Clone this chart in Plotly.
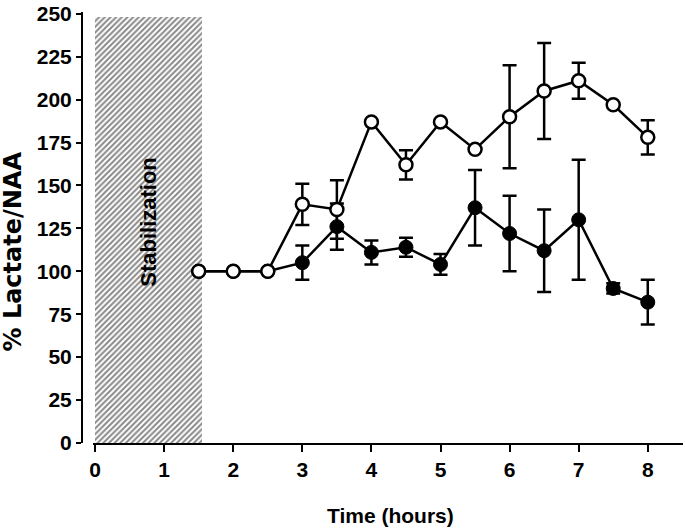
import plotly.graph_objects as go

# ---- data ----
time_h = [1.5, 2, 2.5, 3, 3.5, 4, 4.5, 5, 5.5, 6, 6.5, 7, 7.5, 8]
open_vals = [100, 100, 100, 139, 136, 187, 162, 187, 171, 190, 205, 211, 197, 178]
open_err = [0, 0, 0, 12, 17, 0, 8.5, 0, 0, 30, 28, 10.5, 0, 10]
filled_vals = [100, 100, 100, 105, 126, 111, 114, 104, 137, 122, 112, 130, 90, 82]
filled_err = [0, 0, 0, 10, 13.5, 7, 5.5, 6, 22, 22, 24, 35, 3, 13]

stab_start, stab_end, stab_top = 0, 1.55, 248
x_ticks = [0, 1, 2, 3, 4, 5, 6, 7, 8]
y_ticks = [0, 25, 50, 75, 100, 125, 150, 175, 200, 225, 250]

FONT = "Liberation Sans, Arial, sans-serif"
WIDE = "DejaVu Sans, Liberation Sans, sans-serif"

fig = go.Figure()

# stabilization hatched region
fig.add_trace(go.Bar(
    x=[(stab_start + stab_end) / 2], y=[stab_top], width=[stab_end - stab_start],
    marker=dict(color="white", line=dict(width=0),
                pattern=dict(shape="/", fgcolor="#111111", bgcolor="white",
                             size=4, solidity=0.5)),
    showlegend=False, hoverinfo="skip",
))

fig.add_trace(go.Scatter(
    x=time_h, y=filled_vals, mode="lines+markers",
    line=dict(color="black", width=2.5),
    marker=dict(symbol="circle", size=14, color="black", line=dict(color="black", width=1)),
    error_y=dict(type="data", array=filled_err, visible=True, color="black", thickness=2.5, width=7),
    showlegend=False,
))

fig.add_trace(go.Scatter(
    x=time_h, y=open_vals, mode="lines+markers",
    line=dict(color="black", width=2.5),
    marker=dict(symbol="circle", size=13, color="white", line=dict(color="black", width=2.5)),
    error_y=dict(type="data", array=open_err, visible=True, color="black", thickness=2.5, width=7),
    showlegend=False,
))

fig.add_annotation(
    x=0.77, y=129, xref="x", yref="y", text="Stabilization", textangle=-90,
    showarrow=False, font=dict(family=FONT, size=22, color="black", weight="bold"),
)
fig.add_annotation(
    x=-0.115, y=0.444, xref="paper", yref="paper", text="% Lactate/NAA", textangle=-90,
    showarrow=False, xanchor="center", yanchor="middle",
    font=dict(family=WIDE, size=24, color="black", weight="bold"),
)
fig.add_annotation(
    x=0.5125, y=-0.168, xref="paper", yref="paper", text="Time (hours)",
    showarrow=False, xanchor="center", yanchor="middle",
    font=dict(family=FONT, size=21, color="black", weight="bold"),
)

fig.update_layout(
    width=685, height=532,
    margin=dict(l=82, r=2, t=8, b=89),
    plot_bgcolor="white", paper_bgcolor="white",
    bargap=0,
    xaxis=dict(
        domain=[0.0183, 1], range=[-0.03, 8.51],
        tickmode="array", tickvals=x_ticks, ticktext=[str(v) for v in x_ticks],
        showline=True, linecolor="black", linewidth=2,
        ticks="outside", ticklen=7, tickwidth=2, tickcolor="black",
        showgrid=False, zeroline=False, ticklabeloverflow="allow",
        tickfont=dict(family=FONT, size=21, color="black", weight="bold"),
    ),
    yaxis=dict(
        anchor="free", position=0, range=[0, 251],
        tickmode="array", tickvals=y_ticks, ticktext=[str(v) for v in y_ticks],
        showline=True, linecolor="black", linewidth=2,
        ticks="outside", ticklen=5, tickwidth=2, tickcolor="black",
        showgrid=False, zeroline=False, ticklabeloverflow="allow",
        tickfont=dict(family=FONT, size=21, color="black", weight="bold"),
    ),
)

fig.write_html(
    "out.html",
    config={"displayModeBar": False},
    post_script="document.body.style.margin='0';document.body.style.padding='0';",
)
